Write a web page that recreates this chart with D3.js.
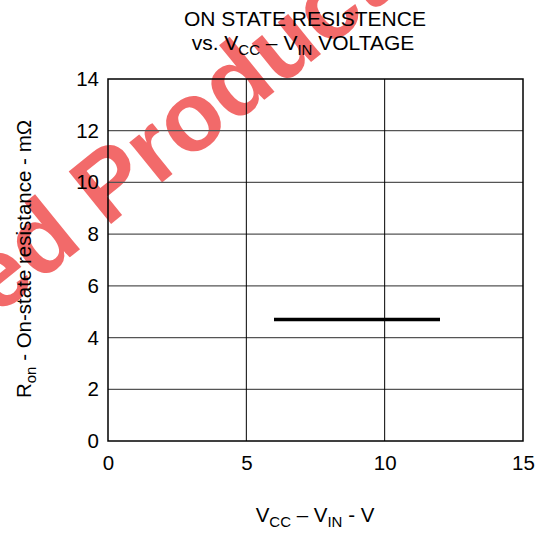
<!DOCTYPE html>
<html>
<head>
<meta charset="utf-8">
<script src="https://d3js.org/d3.v7.min.js"></script>
<style>
  body { margin: 0; background: #fff; }
  svg { display: block; font-family: "Liberation Sans", Arial, sans-serif; }
  .axis path { display: none; }
  .axis line { display: none; }
  .axis text { font-size: 20.5px; fill: #000; font-family: "Liberation Sans", Arial, sans-serif; }
</style>
</head>
<body>
<div class="chart"></div>
<script>
// values
const xTicks = [0, 5, 10, 15];
const yTicks = [0, 2, 4, 6, 8, 10, 12, 14];
const vccMinusVin = [6, 12];      // V
const ronValues = [4.7, 4.7];     // mOhm

const width = 542;
const height = 539;
const margin = { top: 79, right: 19, bottom: 98, left: 108 };

const svg = d3.select('.chart')
    .append('svg')
    .attr('width', width)
    .attr('height', height);

// watermark
const wm = svg.append('g')
    .attr('transform', 'translate(106,228) rotate(-39)')
    .attr('fill', '#f05050')
    .attr('fill-opacity', 0.85)
    .attr('font-weight', 'bold')
    .attr('font-size', 98);
wm.append('text').attr('x', 0).attr('y', 0).text('Product');
wm.append('text').attr('x', -27).attr('y', 0).attr('text-anchor', 'end').text('Advanced');

const x = d3.scaleLinear()
    .domain([0, 15])
    .range([margin.left, width - margin.right]);
const y = d3.scaleLinear()
    .domain([0, 14])
    .range([height - margin.bottom, margin.top]);

// grid
svg.append('g')
    .selectAll('line')
    .data(yTicks.slice(1, -1))
    .enter()
    .append('line')
    .attr('x1', x(0)).attr('x2', x(15))
    .attr('y1', d => y(d)).attr('y2', d => y(d))
    .attr('stroke', '#555')
    .attr('stroke-width', 1.2);

svg.append('g')
    .selectAll('line')
    .data(xTicks.slice(1, -1))
    .enter()
    .append('line')
    .attr('x1', d => x(d)).attr('x2', d => x(d))
    .attr('y1', y(0)).attr('y2', y(14))
    .attr('stroke', '#000')
    .attr('stroke-width', 1);

// frame
svg.append('rect')
    .attr('x', x(0)).attr('y', y(14))
    .attr('width', x(15) - x(0))
    .attr('height', y(0) - y(14))
    .attr('fill', 'none')
    .attr('stroke', '#000')
    .attr('stroke-width', 1.5);

// axes
svg.append('g')
    .attr('class', 'axis')
    .attr('transform', 'translate(0,' + y(0) + ')')
    .call(d3.axisBottom(x).tickValues(xTicks).tickSize(0).tickPadding(14));

svg.append('g')
    .attr('class', 'axis')
    .attr('transform', 'translate(' + x(0) + ',0)')
    .call(d3.axisLeft(y).tickValues(yTicks).tickSize(0).tickPadding(9));

// data line
const line = d3.line()
    .x(d => x(d[0]))
    .y(d => y(d[1]));

svg.append('path')
    .datum(d3.zip(vccMinusVin, ronValues))
    .attr('d', line)
    .attr('fill', 'none')
    .attr('stroke', '#000')
    .attr('stroke-width', 3.5);

// title
const title = svg.append('text')
    .attr('text-anchor', 'middle')
    .attr('font-size', 21);
title.append('tspan').attr('x', 305).attr('y', 26).text('ON STATE RESISTENCE');
const t2 = title.append('tspan').attr('x', 303).attr('y', 50);
t2.append('tspan').text('vs. V');
t2.append('tspan').attr('font-size', 15).attr('dy', 5).text('CC');
t2.append('tspan').attr('dy', -5).text(' – V');
t2.append('tspan').attr('font-size', 15).attr('dy', 5).text('IN');
t2.append('tspan').attr('dy', -5).text(' VOLTAGE');

// x label
const xl = svg.append('text')
    .attr('x', 315).attr('y', 522)
    .attr('text-anchor', 'middle')
    .attr('font-size', 20.5);
xl.append('tspan').text('V');
xl.append('tspan').attr('font-size', 15).attr('dy', 5).text('CC');
xl.append('tspan').attr('dy', -5).text(' – V');
xl.append('tspan').attr('font-size', 15).attr('dy', 5).text('IN');
xl.append('tspan').attr('dy', -5).text(' - V');

// y label
const yl = svg.append('text')
    .attr('transform', 'translate(31,259) rotate(-90)')
    .attr('text-anchor', 'middle')
    .attr('font-size', 20.5);
yl.append('tspan').text('R');
yl.append('tspan').attr('font-size', 15).attr('dy', 5).text('on');
yl.append('tspan').attr('dy', -5).text(' - On-state resistance - mΩ');
</script>
</body>
</html>
